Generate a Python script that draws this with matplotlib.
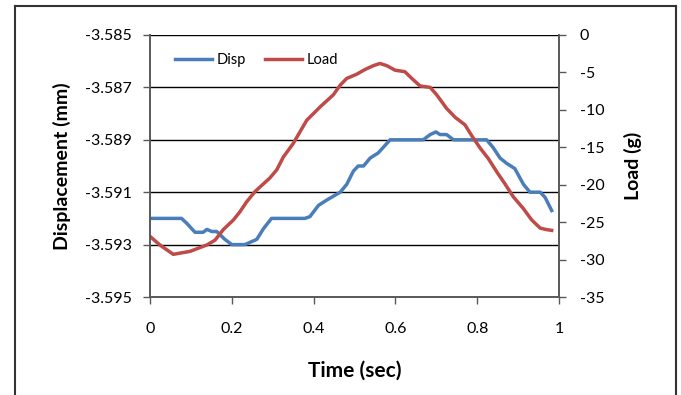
import numpy as np
import matplotlib
matplotlib.use("Agg")
import matplotlib.pyplot as plt
from matplotlib.lines import Line2D

plt.rcParams['font.family'] = ['Lato', 'DejaVu Sans']
plt.rcParams['axes.unicode_minus'] = False

# displacement (mm) vs time (sec)
disp_t = [0.0, 0.004, 0.077, 0.09, 0.11, 0.13, 0.139, 0.151, 0.163, 0.183, 0.2, 0.232,
          0.261, 0.277, 0.297, 0.379, 0.391, 0.412, 0.432, 0.465, 0.481, 0.497, 0.509,
          0.522, 0.538, 0.558, 0.587, 0.668, 0.685, 0.699, 0.709, 0.725, 0.742, 0.823,
          0.839, 0.856, 0.872, 0.892, 0.913, 0.929, 0.954, 0.966, 0.982]
disp = [-3.5920, -3.5920, -3.5920, -3.59219, -3.59253, -3.59253, -3.59242, -3.5925,
        -3.5925, -3.5928, -3.5930, -3.5930, -3.5928, -3.5924, -3.5920, -3.5920,
        -3.59193, -3.5915, -3.5913, -3.5910, -3.5907, -3.5902, -3.5900, -3.5900,
        -3.5897, -3.5895, -3.5890, -3.5890, -3.5888, -3.5887, -3.5888, -3.5888,
        -3.5890, -3.5890, -3.5893, -3.5897, -3.5899, -3.5901, -3.5907, -3.5910,
        -3.5910, -3.5912, -3.5917]

# load (g) vs time (sec)
load_t = [0.0, 0.024, 0.057, 0.098, 0.139, 0.159, 0.179, 0.204, 0.22, 0.236, 0.257,
          0.293, 0.31, 0.326, 0.35, 0.367, 0.383, 0.416, 0.448, 0.465, 0.481, 0.505,
          0.526, 0.546, 0.562, 0.579, 0.599, 0.623, 0.64, 0.66, 0.685, 0.701, 0.725,
          0.746, 0.77, 0.786, 0.807, 0.827, 0.848, 0.868, 0.888, 0.913, 0.933, 0.954,
          0.97, 0.982]
load = [-26.9, -28.05, -29.3, -28.9, -28.05, -27.4, -26.0, -24.7, -23.6, -22.3, -20.9,
        -19.1, -18.0, -16.3, -14.5, -12.9, -11.4, -9.6, -8.0, -6.7, -5.8, -5.25, -4.6,
        -4.1, -3.8, -4.1, -4.7, -4.9, -5.8, -6.8, -7.0, -8.0, -9.8, -11.0, -12.0, -13.4,
        -15.1, -16.5, -18.3, -19.9, -21.6, -23.2, -24.7, -25.8, -26.0, -26.1]

blue = '#4a7ebb'
red = '#be4b48'
axis_col = '#595959'

fig = plt.figure(figsize=(6.81, 3.95), dpi=100)
ax = fig.add_axes([0.2203, 0.2481, 0.6006, 0.6633])
ax2 = ax.twinx()

l1, = ax.plot(disp_t, disp, color=blue, lw=2.5, label='Disp', solid_joinstyle='round')
l2, = ax2.plot(load_t, load, color=red, lw=2.5, label='Load', solid_joinstyle='round')

ax.set_xlim(0, 1)
ax.set_ylim(-3.595, -3.585)
ax2.set_ylim(-35, 0)
ax.set_xticks(np.arange(0, 1.01, 0.2))
ax.set_xticklabels(['0', '0.2', '0.4', '0.6', '0.8', '1'])
ax.set_yticks(np.arange(-3.595, -3.5849, 0.002))
ax.set_yticklabels([f'{v:.3f}' for v in np.arange(-3.595, -3.5849, 0.002)])
ax2.set_yticks(np.arange(-35, 1, 5))

ax.grid(axis='y', color='black', lw=1.0)
ax.set_axisbelow(True)

for a in (ax, ax2):
    a.spines['top'].set_visible(False)
    for s in ('left', 'right', 'bottom'):
        a.spines[s].set_color(axis_col)
        a.spines[s].set_linewidth(1.2)
    a.tick_params(direction='out', length=5, width=1.0, color=axis_col,
                  labelsize=11.5, labelcolor='black')
ax.tick_params(axis='x', pad=13)
ax2.tick_params(axis='y', pad=10)
ax.tick_params(axis='y', pad=8)

ax.set_xlabel('Time (sec)', fontsize=15, fontweight='bold', labelpad=18)
ax.set_ylabel('Displacement (mm)', fontsize=14, fontweight='bold', labelpad=10)
ax2.set_ylabel('Load (g)', fontsize=14, fontweight='bold', labelpad=14)

ax2.legend(handles=[l1, l2], loc='upper left', bbox_to_anchor=(0.03, 0.98),
           ncol=2, frameon=False, fontsize=10.5, handlelength=2.5,
           columnspacing=1.3, handletextpad=0.35)

# outer frame around the chart
fc = '#333333'
fig.add_artist(Line2D([15/681, 15/681], [0, 1 - 6/395], color=fc, lw=1.5))
fig.add_artist(Line2D([15/681, 676/681], [1 - 6/395, 1 - 6/395], color=fc, lw=1.5))
fig.add_artist(Line2D([676/681, 676/681], [0, 1 - 6/395], color=fc, lw=1.5))

fig.savefig('out.png', dpi=100)
